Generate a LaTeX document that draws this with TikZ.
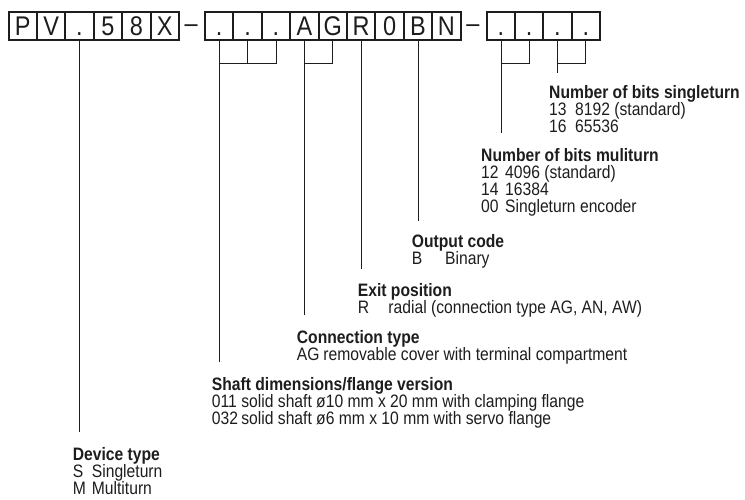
\documentclass[tikz,border=0pt]{standalone}
\usepackage{fontspec}
\setmainfont{Liberation Sans}[FakeStretch=0.87]
\definecolor{ink}{RGB}{30,28,28}
\begin{document}
\begin{tikzpicture}[x=1pt,y=-1pt,
  cell/.style={draw=ink, text=ink, line width=2pt, minimum width=28.4pt, minimum height=28pt,
    inner sep=0pt, anchor=north west, text height=21pt, text depth=3pt,
    font=\fontsize{27}{27}\selectfont},
  dashsign/.style={inner sep=0pt, text=ink, text height=21pt, text depth=3pt,
    font=\fontsize{27}{27}\selectfont},
  lbl/.style={anchor=north west, inner sep=0pt, align=left, text=ink,
    font=\fontsize{18}{17}\selectfont},
  conn/.style={draw=ink, line width=0.7pt}]
\useasboundingbox (0,0) rectangle (745,499);
% group 1
\node[cell] (a1) at (7.5,11) {P};
\node[cell] (a2) at (35.9,11) {V};
\node[cell] (a3) at (64.3,11) {.};
\node[cell] (a4) at (92.7,11) {5};
\node[cell] (a5) at (121.1,11) {8};
\node[cell] (a6) at (149.5,11) {X};
\node[dashsign] (d1) at (191.2,25) {\raisebox{2pt}{–}};
% group 2
\node[cell] (b1) at (204,11) {.};
\node[cell] (b2) at (232.4,11) {.};
\node[cell] (b3) at (260.8,11) {.};
\node[cell] (b4) at (289.2,11) {A};
\node[cell] (b5) at (317.6,11) {G};
\node[cell] (b6) at (346,11) {R};
\node[cell] (b7) at (374.4,11) {0};
\node[cell] (b8) at (402.8,11) {B};
\node[cell] (b9) at (431.2,11) {N};
\node[dashsign] (d2) at (472.8,25) {\raisebox{2pt}{–}};
% group 3
\node[cell] (c1) at (485.7,11) {.};
\node[cell] (c2) at (514,11) {.};
\node[cell] (c3) at (542.3,11) {.};
\node[cell] (c4) at (570.6,11) {.};
% labels
\node[lbl] (sinT) at (549,85) {\textbf{Number of bits singleturn}\\
  \makebox[26pt][l]{13}8192 (standard)\\
  \makebox[26pt][l]{16}65536};
\node[lbl] (mulT) at (481,148) {\textbf{Number of bits muliturn}\\
  \makebox[24pt][l]{12}4096 (standard)\\
  \makebox[24pt][l]{14}16384\\
  \makebox[24pt][l]{00}Singleturn encoder};
\node[lbl] (outT) at (411.7,234) {\textbf{Output code}\\
  \makebox[33.3pt][l]{B}Binary};
\node[lbl] (exitT) at (357.7,283) {\textbf{Exit position}\\
  \makebox[30.6pt][l]{R}radial (connection type AG, AN, AW)};
\node[lbl] (connT) at (296.7,330) {\textbf{Connection type}\\
  \makebox[26.6pt][l]{AG}removable cover with terminal compartment};
\node[lbl] (shaftT) at (211.7,377) {\textbf{Shaft dimensions/flange version}\\
  \makebox[29.5pt][l]{011}solid shaft ø10 mm x 20 mm with clamping flange\\
  \makebox[29.5pt][l]{032}solid shaft ø6 mm x 10 mm with servo flange};
\node[lbl] (devT) at (72.7,447) {\textbf{Device type}\\
  \makebox[19pt][l]{S}Singleturn\\
  \makebox[19pt][l]{M}Multiturn};
% bars
\coordinate (bar) at (0,63);
% connectors
\draw[conn] (a3.south) -- ([yshift=15pt]devT.north -| a3.south);
\draw[conn] (b2.south) -- (b2.south |- bar);
\draw[conn] (b3.south) -- (b3.south |- bar) -- (b1.south |- bar);
\draw[conn] (b1.south) -- ([yshift=15pt]shaftT.north -| b1.south);
\draw[conn] (b5.south) -- (b5.south |- bar) -- (b4.south |- bar);
\draw[conn] (b4.south) -- ([yshift=15pt]connT.north -| b4.south);
\draw[conn] (b6.south) -- ([yshift=14pt]exitT.north -| b6.south);
\draw[conn] (b8.south) -- ([yshift=13pt]outT.north -| b8.south);
\draw[conn] (c2.south) -- (c2.south |- bar) -- (c1.south |- bar);
\draw[conn] (c1.south) -- ([yshift=15pt]mulT.north -| c1.south);
\draw[conn] (c4.south) -- (c4.south |- bar) -- (c3.south |- bar);
\draw[conn] (c3.south) -- ([yshift=12pt]sinT.north -| c3.south);
\end{tikzpicture}
\end{document}
